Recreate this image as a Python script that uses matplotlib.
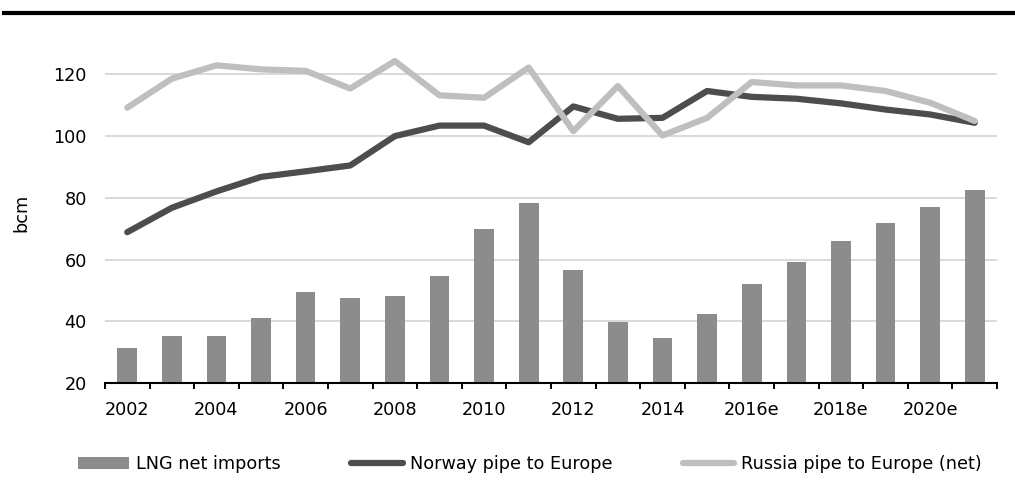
import matplotlib
matplotlib.use("Agg")
import matplotlib.pyplot as plt
from matplotlib.lines import Line2D
import numpy as np

# Data (bcm)
years = ["2002", "2003", "2004", "2005", "2006", "2007", "2008", "2009",
         "2010", "2011", "2012", "2013", "2014", "2015", "2016e", "2017e",
         "2018e", "2019e", "2020e", "2021e"]
lng_net_imports = [31.3, 35.2, 35.2, 41.2, 49.5, 47.6, 48.2, 54.7, 70.0, 78.5,
                   56.8, 39.8, 34.6, 42.4, 52.2, 59.4, 66.2, 72.0, 77.2, 82.4]
norway_pipe = [68.9, 76.8, 82.1, 86.8, 88.6, 90.5, 100.0, 103.4, 103.4, 98.0,
               109.6, 105.6, 105.9, 114.6, 112.7, 112.1, 110.6, 108.6, 107.0, 104.3]
russia_pipe = [109.2, 118.6, 122.9, 121.6, 121.1, 115.4, 124.3, 113.2, 112.4, 122.2,
               101.6, 116.2, 100.2, 105.9, 117.5, 116.4, 116.4, 114.6, 110.8, 104.9]
y_ticks = [20, 40, 60, 80, 100, 120]

BAR_COLOR = "#8c8c8c"
NORWAY_COLOR = "#4d4d4d"
RUSSIA_COLOR = "#bfbfbf"
FONT_SIZE = 12.7

plt.rcParams["font.family"] = ["DejaVu Sans"]
plt.rcParams["font.size"] = FONT_SIZE

fig = plt.figure(figsize=(10.15, 4.95), dpi=100)
ax = fig.add_axes([0.1034, 0.2257, 0.8789, 0.6866])

x = np.arange(len(years))
bars = ax.bar(x, lng_net_imports, width=0.44, color=BAR_COLOR, zorder=2,
              label="LNG net imports")
(norway_line,) = ax.plot(x, norway_pipe, color=NORWAY_COLOR, lw=4.5,
                         solid_capstyle="round", solid_joinstyle="round",
                         zorder=3, label="Norway pipe to Europe")
(russia_line,) = ax.plot(x, russia_pipe, color=RUSSIA_COLOR, lw=4.5,
                         solid_capstyle="round", solid_joinstyle="round",
                         zorder=4, label="Russia pipe to Europe (net)")

ax.set_xlim(-0.5, len(years) - 0.5)
ax.set_ylim(20, 130)

# horizontal gridlines (none at the baseline)
for yv in y_ticks[1:]:
    ax.axhline(yv, color="#d9d9d9", lw=1.4, zorder=1)

ax.set_yticks(y_ticks)
ax.tick_params(axis="y", length=0, pad=13)

# category labels every other year, tick marks at category boundaries
ax.set_xticks(x[::2])
ax.set_xticklabels(years[::2])
ax.set_xticks(np.arange(-0.5, len(years)), minor=True)
ax.tick_params(axis="x", which="major", length=0, pad=12.5)
ax.tick_params(axis="x", which="minor", length=4.5, width=1.4, color="black")

for side in ("top", "right", "left"):
    ax.spines[side].set_visible(False)
ax.spines["bottom"].set_linewidth(1.5)
ax.spines["bottom"].set_zorder(5)

ax.set_ylabel("bcm")
ax.yaxis.set_label_coords(-0.084, 0.5)

fig.legend([bars, norway_line, russia_line],
           ["LNG net imports", "Norway pipe to Europe", "Russia pipe to Europe (net)"],
           loc="center", bbox_to_anchor=(0.522, 0.0626),
           ncol=3, frameon=False, handlelength=2.9, handletextpad=0.4,
           columnspacing=4.0, fontsize=FONT_SIZE)

# heavy rule under the (cropped) caption
fig.add_artist(Line2D([0.004, 1.0], [0.9737, 0.9737], color="black", lw=3,
                      transform=fig.transFigure))

fig.savefig("out.png", dpi=100)
